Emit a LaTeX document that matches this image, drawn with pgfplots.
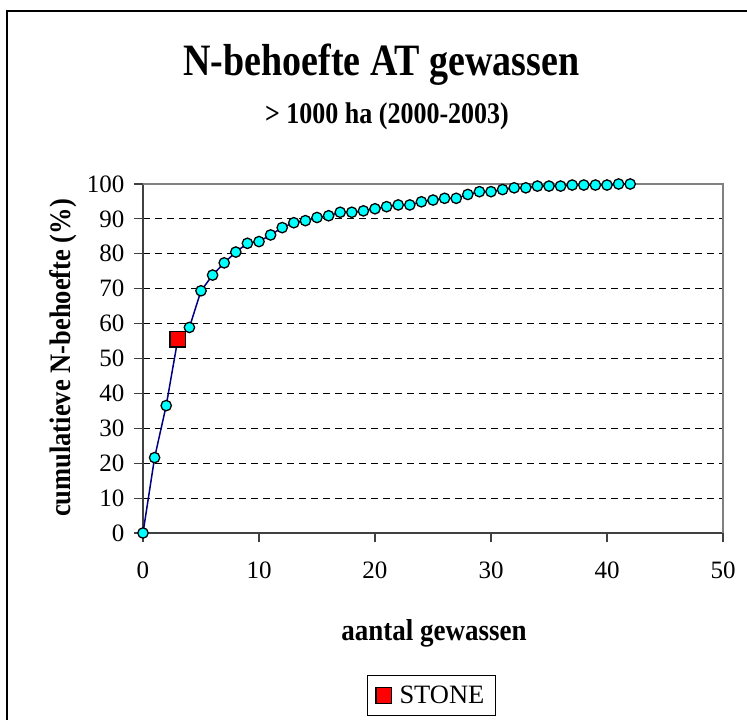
\documentclass[border=0pt]{standalone}
\usepackage{pgfplots}
\pgfplotsset{compat=1.18}
\usepackage{fontspec}
\setmainfont{Liberation Serif}
\definecolor{navyline}{HTML}{000080}
\definecolor{cyanm}{HTML}{00FFFF}
\definecolor{axgray}{HTML}{808080}
\definecolor{axdark}{HTML}{404040}
\begin{document}
\begin{tikzpicture}
\path[use as bounding box] (0pt,0pt) rectangle (747pt,720pt);
\draw[line width=1.5pt] (7pt,0pt) -- (7pt,709pt) -- (747pt,709pt);
\node[anchor=base, font=\bfseries\fontsize{38}{40}\selectfont] at (381.5pt,644pt) {\scalebox{1}[1.18]{N-behoefte AT gewassen}};
\node[anchor=base, font=\bfseries\fontsize{26}{28}\selectfont] at (387pt,596pt) {\scalebox{1}[1.15]{> 1000 ha (2000-2003)}};
\node[anchor=base, font=\bfseries\fontsize{27}{29}\selectfont] at (434pt,79pt) {\scalebox{1}[1.12]{aantal gewassen}};
\node[anchor=base, rotate=90, font=\bfseries\fontsize{26.5}{28}\selectfont] at (70pt,362pt) {\scalebox{1}[1.12]{cumulatieve N-behoefte (\%)}};
\begin{axis}[
  at={(143pt,187pt)}, anchor=south west,
  width=580pt, height=349pt, scale only axis,
  xmin=0, xmax=50, ymin=0, ymax=100,
  xtick={0,10,...,50}, ytick={0,10,...,100},
  axis lines=left,
  axis line style={-, line width=1.3pt, draw=axdark},
  tick style={line width=1.1pt, draw=axdark},
  major tick length=9pt, tick align=outside,
  ymajorgrids,
  grid style={dash pattern=on 7pt off 5pt, line width=1pt, black},
  ticklabel style={font=\fontsize{25}{25}\selectfont},
  xticklabel style={yshift=-16pt},
  yticklabel style={xshift=-6pt},
  /pgf/number format/assume math mode=true,
  clip=false,
  legend style={at={(0.497,-0.4656)}, anchor=center, draw=black, line width=1pt,
    font=\fontsize{26.5}{28}\selectfont, inner xsep=9pt, inner ysep=8pt,
    /tikz/every odd column/.append style={column sep=6pt}},
  legend cell align=left,
]
\draw[axgray, line width=1.5pt] (rel axis cs:0,1) -- (rel axis cs:1,1) -- (rel axis cs:1,0);
\addplot[navyline, line width=1.5pt, mark=*, mark size=5.2pt,
  mark options={fill=cyanm, draw=black, line width=1.3pt}, forget plot] coordinates {
(0,0) (1,21.6) (2,36.5) (3,55.5) (4,58.9) (5,69.4) (6,73.9) (7,77.4) (8,80.5)
(9,83.0) (10,83.5) (11,85.4) (12,87.5) (13,88.9) (14,89.5) (15,90.4) (16,90.9)
(17,91.9) (18,91.9) (19,92.3) (20,92.9) (21,93.5) (22,94.0) (23,94.0) (24,94.9)
(25,95.4) (26,95.9) (27,95.9) (28,97.0) (29,97.8) (30,97.8) (31,98.4) (32,98.9)
(33,98.9) (34,99.4) (35,99.4) (36,99.4) (37,99.7) (38,99.7) (39,99.7) (40,99.7)
(41,100) (42,100)
};
\addplot[only marks, mark=square*, mark size=7.7pt,
  mark options={fill=red, draw=black, line width=1.3pt}] coordinates {(3,55.5)};
\addlegendentry{STONE}
\end{axis}
\end{tikzpicture}
\end{document}
